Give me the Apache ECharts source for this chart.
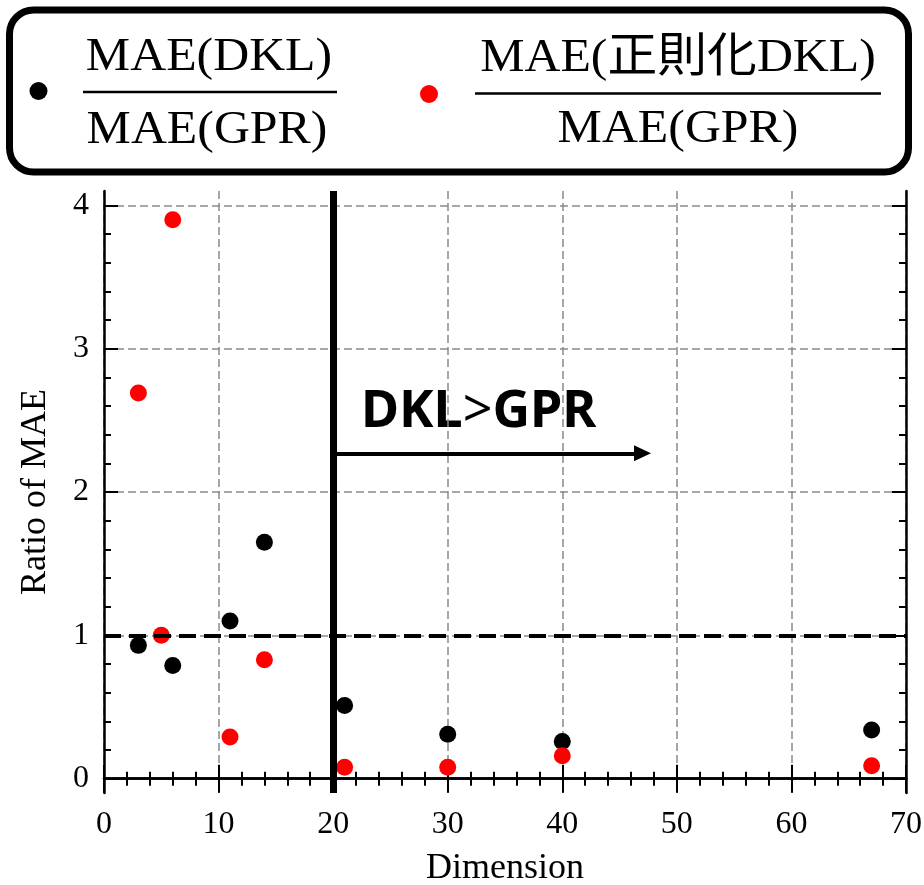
<!DOCTYPE html>
<html>
<head>
<meta charset="utf-8">
<script src="https://cdn.jsdelivr.net/npm/echarts@6/dist/echarts.min.js"></script>
<style>
  html, body { margin: 0; padding: 0; background: #fff; }
  #chart { width: 924px; height: 885px; }
</style>
</head>
<body>
<div id="chart"></div>
<script>
// data
const dimsDKL = [3, 6, 11, 14, 21, 30, 40, 67];
const ratioDKL = [0.93, 0.79, 1.10, 1.65, 0.51, 0.31, 0.26, 0.34];
const dimsRegDKL = [3, 5, 6, 11, 14, 21, 30, 40, 67];
const ratioRegDKL = [2.69, 1.00, 3.90, 0.29, 0.83, 0.08, 0.08, 0.16, 0.09];

const yMajor = [0, 1, 2, 3, 4];
const yMinor = [0.2, 0.4, 0.6, 0.8, 1.2, 1.4, 1.6, 1.8, 2.2, 2.4, 2.6, 2.8, 3.2, 3.4, 3.6, 3.8];
const splitDim = 20;
const arrowY = 2.27;
const arrowEnd = 47;

const serif = "'Liberation Serif', 'Noto Sans CJK JP', serif";
const black = "#000";
const gridColor = "#8a8a8a";

function pairs(xs, ys) {
  return xs.map((x, i) => [x, ys[i]]);
}

function yAxisOf(position, ticks, len, main) {
  return {
    type: "value",
    min: -0.1,
    max: 4.1,
    splitNumber: 4,
    position: position,
    axisLine: { show: main, lineStyle: { color: black, width: 2.5 } },
    axisTick: {
      show: true,
      inside: true,
      length: len,
      customValues: ticks,
      lineStyle: { color: black, width: 2 },
    },
    axisLabel: { show: false },
    splitLine: { show: false },
  };
}

const leftMajor = yAxisOf("left", yMajor, 14, true);
leftMajor.axisLabel = {
  show: true,
  customValues: yMajor,
  margin: 15,
  fontSize: 32,
  fontFamily: serif,
  color: black,
};
leftMajor.splitLine = {
  show: true,
  lineStyle: { color: gridColor, width: 1.5, type: [8, 4] },
};
leftMajor.name = "Ratio of MAE";
leftMajor.nameLocation = "middle";
leftMajor.nameGap = 50;
leftMajor.nameTextStyle = { fontSize: 36, fontFamily: serif, color: black };

function xAxisOf(position, main) {
  return {
    type: "value",
    min: 0,
    max: 70,
    interval: 10,
    position: position,
    axisLine: { show: true, lineStyle: { color: black, width: 2.5 } },
    axisTick: { show: true, inside: true, length: 14, lineStyle: { color: black, width: 2 } },
    minorTick: { show: true, splitNumber: 5, length: 7, lineStyle: { color: black, width: 2 } },
    axisLabel: main
      ? { show: true, margin: 16, fontSize: 32, fontFamily: serif, color: black }
      : { show: false },
    splitLine: main
      ? { show: true, lineStyle: { color: gridColor, width: 1.5, type: [8, 4] } }
      : { show: false },
  };
}

const bottomX = xAxisOf("bottom", true);
bottomX.name = "Dimension";
bottomX.nameLocation = "middle";
bottomX.nameGap = 58;
bottomX.nameTextStyle = { fontSize: 36, fontFamily: serif, color: black };

const legendFont = "47px " + serif;
const legendScale = 1.06;

function legendText(text, x, y) {
  return {
    type: "text", x: x, y: y, scaleX: legendScale,
    style: { text: text, font: legendFont, fill: black, textAlign: "center", textVerticalAlign: "middle" },
  };
}

const option = {
  animation: false,
  backgroundColor: "#fff",
  grid: {
    left: 104,
    right: 18,
    top: 191,
    bottom: 92,
    containLabel: false,
    outerBoundsMode: "none",
  },
  xAxis: [bottomX, xAxisOf("top", false)],
  yAxis: [
    leftMajor,
    yAxisOf("left", yMinor, 7, false),
    yAxisOf("right", yMajor, 14, true),
    yAxisOf("right", yMinor, 7, false),
  ],
  series: [
    {
      name: "MAE(DKL)/MAE(GPR)",
      type: "scatter",
      symbolSize: 17,
      clip: false,
      itemStyle: { color: black, opacity: 1 },
      data: pairs(dimsDKL, ratioDKL),
      markLine: {
        silent: true,
        symbol: ["none", "none"],
        label: { show: false },
        data: [
          [
            { coord: [0, 1], lineStyle: { color: black, width: 4, type: [17, 8] } },
            { coord: [70, 1] },
          ],
          [
            { coord: [splitDim, 4.1], lineStyle: { color: black, width: 7, type: "solid" } },
            { coord: [splitDim, -0.1] },
          ],
          [
            {
              coord: [splitDim, arrowY],
              symbol: "none",
              lineStyle: { color: black, width: 4, type: "solid" },
            },
            { coord: [arrowEnd, arrowY], symbol: "triangle", symbolSize: [16, 17] },
          ],
        ],
      },
    },
    {
      name: "MAE(正則化DKL)/MAE(GPR)",
      type: "scatter",
      symbolSize: 17,
      itemStyle: { color: "#ff0000", opacity: 1 },
      data: pairs(dimsRegDKL, ratioRegDKL),
    },
  ],
  graphic: [
    {
      type: "rect",
      shape: { x: 9.5, y: 10, width: 899, height: 162, r: 24 },
      style: { fill: "#fff", stroke: black, lineWidth: 7 },
    },
    { type: "circle", shape: { cx: 38.5, cy: 91, r: 9 }, style: { fill: black } },
    { type: "line", shape: { x1: 83, y1: 92, x2: 337, y2: 92 }, style: { stroke: black, lineWidth: 2.5 } },
    legendText("MAE(DKL)", 209, 57.5),
    legendText("MAE(GPR)", 207, 130.5),
    { type: "circle", shape: { cx: 429, cy: 94, r: 9 }, style: { fill: "#ff0000" } },
    { type: "line", shape: { x1: 475, y1: 93.5, x2: 881, y2: 93.5 }, style: { stroke: black, lineWidth: 2.5 } },
    legendText("MAE(正則化DKL)", 678, 58.5),
    legendText("MAE(GPR)", 678, 130),
    {
      type: "text", x: 361, y: 412,
      style: {
        text: "{b|DKL}{t|>}{b|GPR}",
        textAlign: "left",
        textVerticalAlign: "middle",
        rich: {
          b: { fontFamily: "'Noto Sans', sans-serif", fontWeight: "bold", fontSize: 52, fill: black, color: black },
          t: { fontFamily: "'Noto Sans', sans-serif", fontWeight: "normal", fontSize: 52, fill: black, color: black },
        },
      },
    },
  ],
};

const chart = echarts.init(document.getElementById("chart"), null, { renderer: "canvas" });
chart.setOption(option);
</script>
</body>
</html>
